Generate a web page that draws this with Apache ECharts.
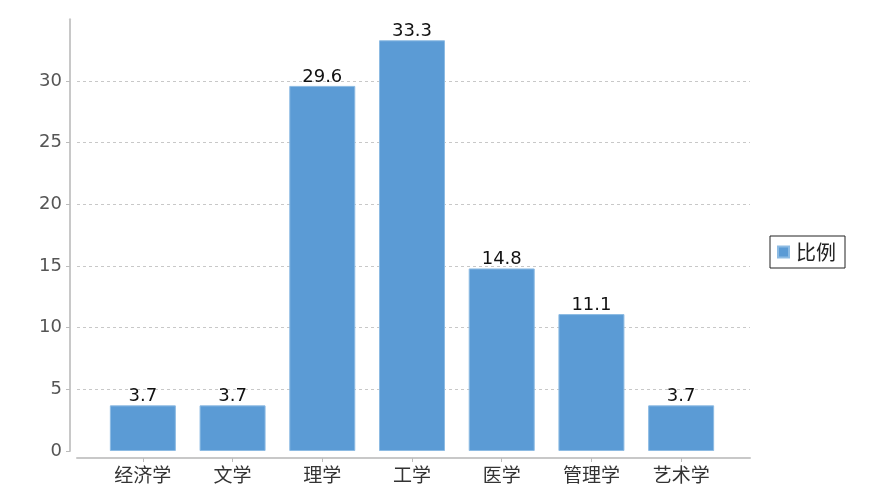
<!DOCTYPE html>
<html><head><meta charset="utf-8">
<script src="https://cdn.jsdelivr.net/npm/echarts@6/dist/echarts.min.js"></script>
<style>html,body{margin:0;padding:0;background:#fff}#c{width:870px;height:500px}</style>
</head><body><div id="c"></div>
<script>
const categories = ['经济学','文学','理学','工学','医学','管理学','艺术学'];
const seriesName = '比例';
const values = [3.7, 3.7, 29.6, 33.3, 14.8, 11.1, 3.7];
const yMin = 0, yMax = 35, yInterval = 5;

const chart = echarts.init(document.getElementById('c'));
const txtFont = 'DejaVu Sans';
chart.setOption({
  animation: false,
  grid: [
    {left: 77, right: 120, top: 19.3, bottom: 49},
    {left: 98, right: 144, top: 19.3, bottom: 49}
  ],
  legend: {
    left: 770, top: 236, orient: 'vertical',
    data: [seriesName],
    itemWidth: 11, itemHeight: 11, itemGap: 4,
    icon: 'rect',
    borderColor: '#222', borderWidth: 1, padding: [6, 9, 6, 7],
    textStyle: {fontFamily: 'Noto Sans CJK SC', fontSize: 20, color: '#222', padding: [0, 0, 0, 2]}
  },
  xAxis: [
    {gridIndex: 0, type: 'category', data: categories, offset: 7,
     axisLine: {show: true, onZero: false, lineStyle: {color: '#c8c8c8', width: 2}},
     axisTick: {show: false}, axisLabel: {show: false}, splitLine: {show: false}},
    {gridIndex: 1, type: 'category', data: categories, offset: 7,
     axisLine: {show: false, onZero: false},
     axisTick: {show: true, alignWithLabel: true, length: 4, lineStyle: {color: '#bbb'}},
     axisLabel: {fontFamily: 'Noto Sans CJK SC', fontSize: 19, color: '#333', margin: 7}}
  ],
  yAxis: [
    {gridIndex: 0, type: 'value', min: yMin, max: yMax, interval: yInterval, offset: 7,
     axisLine: {show: true, lineStyle: {color: '#c8c8c8', width: 2}},
     axisTick: {show: true, length: 4, lineStyle: {color: '#bbb'}},
     axisLabel: {showMaxLabel: false, fontFamily: txtFont, fontSize: 18, color: '#555', margin: 8},
     splitLine: {show: true, showMinLine: false, showMaxLine: false, lineStyle: {color: '#c8c8c8', type: [3, 3]}}},
    {gridIndex: 1, type: 'value', min: yMin, max: yMax, interval: yInterval, show: false, splitLine: {show: false}}
  ],
  series: [{
    name: seriesName, type: 'bar', xAxisIndex: 1, yAxisIndex: 1,
    data: values, barWidth: 66,
    itemStyle: {color: '#5b9bd5', borderColor: '#8dbbe3', borderWidth: 1},
    label: {show: true, position: 'top', distance: 0, fontFamily: txtFont, fontSize: 18, color: '#111'}
  }]
});
</script></body></html>
